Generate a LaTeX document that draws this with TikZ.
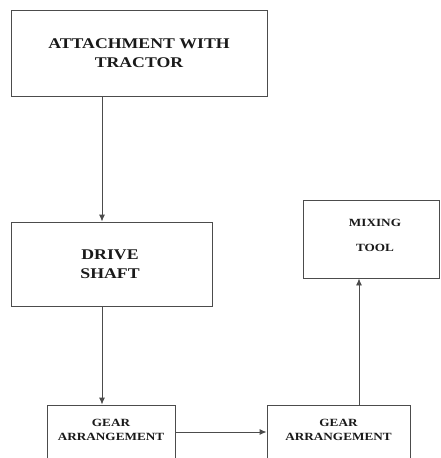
\documentclass[tikz,border=0pt]{standalone}
\usepackage{fontspec}
\setmainfont{Liberation Serif}[FakeStretch=1.2]
\usetikzlibrary{arrows.meta}
\begin{document}
\begin{tikzpicture}[x=1pt,y=-1pt,
  box/.style={draw=black!70, line width=0.9pt, fill=white, inner sep=0pt},
  lbl/.style={align=center, font=\bfseries, inner sep=0pt, text=black!90},
  conn/.style={draw=black!70, line width=0.9pt, -{Latex[length=7pt,width=6pt]}}]
\useasboundingbox (0,0) rectangle (440,458);
\clip (0,0) rectangle (440,458);
\fill[white] (0,0) rectangle (440,458);
\node[box, minimum width=256pt, minimum height=86pt] (att) at (139,53) {};
\node[lbl, font=\fontsize{14.8}{18.5}\selectfont\bfseries] (attt) at (att.center) {ATTACHMENT WITH\\TRACTOR};
\node[box, minimum width=201pt, minimum height=84pt] (drv) at (111.5,264) {};
\node[lbl, font=\fontsize{14.8}{18.5}\selectfont\bfseries] (drvt) at (110,264) {DRIVE\\SHAFT};
\node[box, minimum width=136pt, minimum height=78pt] (mix) at (371,239) {};
\node[lbl, font=\fontsize{11}{25}\selectfont\bfseries] (mixt) at (375,235.5) {MIXING\\TOOL};
\node[box, minimum width=128pt, minimum height=70pt] (g1) at (111,440) {};
\node[lbl, font=\fontsize{11}{14}\selectfont\bfseries] (g1t) at (111,430) {GEAR\\ARRANGEMENT};
\node[box, minimum width=143pt, minimum height=70pt] (g2) at (338.5,440) {};
\node[lbl, font=\fontsize{11}{14}\selectfont\bfseries] (g2t) at (338.5,430) {GEAR\\ARRANGEMENT};
\draw[conn] (att.south -| 102,0) -- (drv.north -| 102,0);
\draw[conn] (drv.south -| 102,0) -- (g1.north -| 102,0);
\draw[conn] (g1.east |- 0,432) -- (g2.west |- 0,432);
\draw[conn] (g2.north -| 359,0) -- (mix.south -| 359,0);
\end{tikzpicture}
\end{document}
